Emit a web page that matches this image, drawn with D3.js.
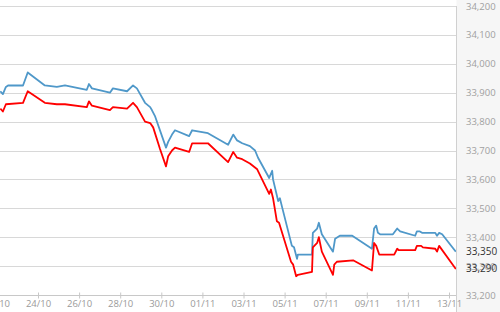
<!DOCTYPE html>
<html>
<head>
<meta charset="utf-8">
<script src="https://cdnjs.cloudflare.com/ajax/libs/d3/7.8.5/d3.min.js"></script>
<style>
html,body{margin:0;padding:0;background:#fff;}
svg{display:block;}
</style>
</head>
<body>
<svg id="chart" width="500" height="312"></svg>
<script>
// ---- data ----
const blueTimes = ["2023-10-22 04:00","2023-10-22 07:00","2023-10-22 10:30","2023-10-22 13:00","2023-10-23 06:30","2023-10-23 12:00","2023-10-24 08:00","2023-10-24 22:00","2023-10-25 07:30","2023-10-26 09:00","2023-10-26 11:30","2023-10-26 15:00","2023-10-27 12:00","2023-10-27 15:30","2023-10-28 08:00","2023-10-28 15:00","2023-10-28 19:30","2023-10-29 05:00","2023-10-29 11:00","2023-10-29 13:00","2023-10-29 16:30","2023-10-30 05:30","2023-10-30 08:00","2023-10-30 12:30","2023-10-30 16:00","2023-10-31 08:30","2023-10-31 12:00","2023-11-01 06:30","2023-11-02 06:00","2023-11-02 12:00","2023-11-02 16:30","2023-11-02 22:30","2023-11-03 07:30","2023-11-03 13:30","2023-11-03 17:00","2023-11-04 06:00","2023-11-04 09:30","2023-11-04 10:30","2023-11-04 16:30","2023-11-04 18:30","2023-11-04 21:00","2023-11-05 08:30","2023-11-05 11:00","2023-11-05 14:30","2023-11-05 15:30","2023-11-06 08:00","2023-11-06 09:00","2023-11-06 14:00","2023-11-06 16:00","2023-11-06 19:30","2023-11-07 08:30","2023-11-07 11:00","2023-11-07 16:30","2023-11-08 07:00","2023-11-09 06:00","2023-11-09 08:30","2023-11-09 11:00","2023-11-09 13:00","2023-11-09 15:30","2023-11-10 06:30","2023-11-10 11:30","2023-11-10 15:00","2023-11-11 08:30","2023-11-11 10:30","2023-11-11 14:00","2023-11-11 16:30","2023-11-12 08:00","2023-11-12 10:00","2023-11-12 12:30","2023-11-12 16:00","2023-11-13 08:00"];
const blueValues = [33905,33895,33920,33925,33925,33970,33925,33920,33925,33910,33930,33915,33900,33915,33905,33925,33915,33865,33850,33840,33820,33710,33730,33755,33770,33750,33770,33760,33720,33755,33735,33725,33715,33700,33675,33605,33630,33600,33525,33535,33505,33370,33365,33325,33340,33340,33415,33430,33450,33410,33350,33395,33405,33405,33360,33430,33440,33415,33410,33410,33430,33420,33405,33420,33420,33415,33415,33405,33415,33410,33350];

const redTimes = ["2023-10-22 04:00","2023-10-22 07:00","2023-10-22 10:30","2023-10-23 06:30","2023-10-23 12:00","2023-10-24 08:00","2023-10-24 22:00","2023-10-25 07:30","2023-10-26 09:00","2023-10-26 11:30","2023-10-26 15:00","2023-10-27 12:00","2023-10-27 15:30","2023-10-28 08:00","2023-10-28 15:00","2023-10-28 19:30","2023-10-29 05:00","2023-10-29 11:00","2023-10-29 14:30","2023-10-29 22:30","2023-10-30 05:30","2023-10-30 08:00","2023-10-30 12:30","2023-10-30 16:00","2023-10-31 08:30","2023-10-31 12:00","2023-11-01 06:30","2023-11-02 06:00","2023-11-02 12:00","2023-11-02 16:30","2023-11-02 22:30","2023-11-03 07:30","2023-11-03 16:00","2023-11-04 06:00","2023-11-04 08:00","2023-11-04 10:30","2023-11-04 15:00","2023-11-04 17:30","2023-11-05 07:30","2023-11-05 10:00","2023-11-05 13:30","2023-11-05 15:30","2023-11-06 08:00","2023-11-06 09:00","2023-11-06 14:00","2023-11-06 16:00","2023-11-06 19:30","2023-11-07 08:30","2023-11-07 10:00","2023-11-07 13:00","2023-11-08 08:00","2023-11-09 06:00","2023-11-09 08:30","2023-11-09 11:00","2023-11-09 14:30","2023-11-10 08:00","2023-11-10 11:30","2023-11-10 13:30","2023-11-11 08:30","2023-11-11 10:30","2023-11-11 15:30","2023-11-11 17:30","2023-11-12 08:00","2023-11-12 10:00","2023-11-12 12:30","2023-11-13 08:00"];
const redValues = [33845,33835,33860,33865,33905,33865,33860,33860,33850,33870,33855,33840,33850,33845,33865,33850,33800,33795,33780,33705,33645,33680,33700,33710,33695,33725,33725,33660,33695,33675,33670,33655,33635,33550,33565,33535,33455,33450,33315,33305,33265,33270,33280,33365,33380,33400,33350,33270,33305,33315,33320,33285,33380,33370,33340,33340,33360,33355,33355,33370,33370,33365,33360,33350,33370,33290];

const xTickDates = ["2023-10-22","2023-10-24","2023-10-26","2023-10-28","2023-10-30","2023-11-01","2023-11-03","2023-11-05","2023-11-07","2023-11-09","2023-11-11","2023-11-13"];
const yTickValues = [33200,33300,33400,33500,33600,33700,33800,33900,34000,34100,34200];
const lastLabels = [{v:33350, t:"33,350"},{v:33290, t:"33,290"}];

// ---- chart ----
const W = 500, H = 312;
const plotLeft = 0, plotRight = 456, plotTop = 6, plotBottom = 295;
const parse = d3.utcParse("%Y-%m-%d %H:%M");
const parseDay = d3.utcParse("%Y-%m-%d");

const blue = blueTimes.map((t,i)=>({t:parse(t), v:blueValues[i]}));
const red = redTimes.map((t,i)=>({t:parse(t), v:redValues[i]}));

const x = d3.scaleUtc()
  .domain([parseDay("2023-10-24"), parseDay("2023-11-13")])
  .range([38, 449]);
const y = d3.scaleLinear().domain([33200, 34200]).range([plotBottom, plotTop]);

const svg = d3.select("#chart");
const font = "'Open Sans', 'DejaVu Sans', sans-serif";

// right panel background
svg.append("rect").attr("x", plotRight + 0.5).attr("y", 0).attr("width", W - plotRight).attr("height", H).attr("fill", "#f6f6f6");

// gridlines
svg.append("g").selectAll("line").data(yTickValues.filter(v=>v>33200)).join("line")
  .attr("x1", plotLeft).attr("x2", plotRight)
  .attr("y1", d=>Math.round(y(d))+0.5).attr("y2", d=>Math.round(y(d))+0.5)
  .attr("stroke", "#d8d8d8").attr("stroke-width", 1);

// right border
svg.append("line").attr("x1", plotRight+0.5).attr("x2", plotRight+0.5)
  .attr("y1", plotTop).attr("y2", H).attr("stroke", "#d0d0d0");

// x axis
const xAxis = d3.axisBottom(x)
  .tickValues(xTickDates.map(parseDay))
  .tickFormat(d3.utcFormat("%d/%m"))
  .tickSize(4).tickSizeOuter(0);
const gx = svg.append("g").attr("transform", `translate(0,${plotBottom+0.5})`).call(xAxis);
gx.select(".domain").attr("stroke", "#c8c8c8").attr("d", `M${plotLeft},0H${plotRight}`);
gx.selectAll(".tick line").attr("stroke", "#c8c8c8").attr("y1", -3).attr("y2", 3);
gx.selectAll(".tick text").attr("fill", "#9a9a9a").attr("font-family", font).attr("font-size", "9.5px").attr("dy", "0").attr("y", 11);

// right y axis
const yAxis = d3.axisRight(y).tickValues(yTickValues).tickFormat(d3.format(",")).tickSize(0);
const gy = svg.append("g").attr("transform", `translate(466,0)`).call(yAxis);
gy.select(".domain").remove();
gy.selectAll(".tick text").attr("x", 0).attr("fill", "#a0a0a0").attr("font-family", font).attr("font-size", "9.5px").attr("text-anchor", "start");

// lines
svg.append("clipPath").attr("id", "clip").append("rect")
  .attr("x", plotLeft).attr("y", 0).attr("width", plotRight - plotLeft).attr("height", plotBottom);
const line = d3.line().x(d=>x(d.t)).y(d=>y(d.v));
const lg = svg.append("g").attr("clip-path", "url(#clip)");
lg.append("path").datum(blue).attr("d", line).attr("fill", "none")
  .attr("stroke", "#4f98c9").attr("stroke-width", 1.8).attr("stroke-linejoin", "round");
lg.append("path").datum(red).attr("d", line).attr("fill", "none")
  .attr("stroke", "#ff0000").attr("stroke-width", 1.8).attr("stroke-linejoin", "round");

// last value labels
svg.append("g").selectAll("text").data(lastLabels).join("text")
  .attr("x", 466).attr("y", d=>y(d.v)).attr("dy", "0.35em")
  .attr("fill", "#333").attr("font-family", font).attr("font-size", "10px")
  .text(d=>d.t);
</script>
</body>
</html>
